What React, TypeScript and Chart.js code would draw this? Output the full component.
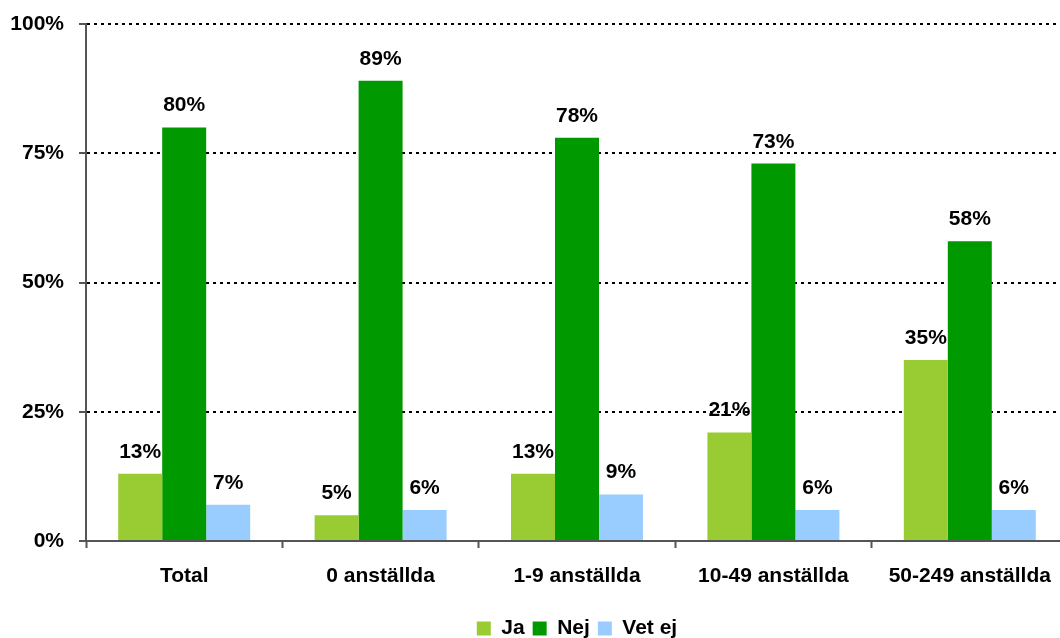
import React, { useEffect, useRef } from "react";
import { Chart, registerables } from "chart.js";

Chart.register(...registerables);

const categories = ["Total", "0 anställda", "1-9 anställda", "10-49 anställda", "50-249 anställda"];
const seriesNames = ["Ja", "Nej", "Vet ej"];
const jaValues = [13, 5, 13, 21, 35];
const nejValues = [80, 89, 78, 73, 58];
const vetEjValues = [7, 6, 9, 6, 6];
const seriesColors = ["#99CC33", "#009900", "#99CCFF"];
const yTicks = [0, 25, 50, 75, 100];

const FONT = "'Liberation Sans', Arial, Helvetica, sans-serif";
const FS = 21;

const valueLabels = {
  id: "valueLabels",
  afterDatasetsDraw(chart: any) {
    const ctx = chart.ctx;
    ctx.save();
    ctx.font = `bold ${FS}px ${FONT}`;
    ctx.fillStyle = "#000";
    ctx.textAlign = "center";
    ctx.textBaseline = "alphabetic";
    chart.data.datasets.forEach((ds: any, i: number) => {
      const meta = chart.getDatasetMeta(i);
      meta.data.forEach((bar: any, j: number) => {
        ctx.fillText(ds.data[j] + "%", bar.x, bar.y - 16);
      });
    });
    ctx.restore();
  },
};

export default function App() {
  const ref = useRef<HTMLCanvasElement>(null);
  useEffect(() => {
    if (!ref.current) return;
    const chart = new Chart(ref.current, {
      type: "bar",
      data: {
        labels: categories,
        datasets: [jaValues, nejValues, vetEjValues].map((d, i) => ({
          label: seriesNames[i],
          data: d,
          backgroundColor: seriesColors[i],
          borderWidth: 0,
          categoryPercentage: 0.672,
          barPercentage: 1,
        })),
      },
      options: {
        responsive: false,
        animation: false,
        layout: { padding: { top: 24, left: 0, right: 0, bottom: -11 } },
        plugins: {
          legend: {
            position: "bottom",
            fullSize: false,
            labels: {
              boxWidth: 14,
              boxHeight: 14,
              padding: 8,
              color: "#000",
              font: { family: FONT, size: FS, weight: "bold" },
            },
          },
          tooltip: { enabled: false },
        },
        scales: {
          x: {
            grid: {
              offset: true,
              drawOnChartArea: false,
              drawTicks: true,
              tickLength: 7,
              tickColor: "#555",
              tickWidth: 2,
            },
            border: { display: true, color: "#555", width: 2 },
            ticks: {
              color: "#000",
              padding: 16,
              font: { family: FONT, size: FS, weight: "bold" },
            },
            afterFit: (s: any) => {
              s.height = 69;
              s.paddingLeft = 0;
              s.paddingRight = 0;
            },
          },
          y: {
            min: 0,
            max: 100,
            afterBuildTicks: (s: any) => {
              s.ticks = yTicks.map((v) => ({ value: v }));
            },
            grid: {
              color: (c: any) => (c.tick && c.tick.value === 0 ? "rgba(0,0,0,0)" : "#000"),
              lineWidth: 2,
              drawTicks: true,
              tickLength: 7,
              tickColor: "#555",
              tickWidth: 2,
              tickBorderDash: [],
            },
            border: { display: true, color: "#555", width: 2, dash: [3, 4] },
            ticks: {
              color: "#000",
              padding: 15,
              font: { family: FONT, size: FS, weight: "bold" },
              callback: (v: any) => v + "%",
            },
            afterFit: (s: any) => {
              s.width = 86;
              s.paddingTop = 0;
              s.paddingBottom = 0;
            },
          },
        },
      },
      plugins: [valueLabels],
    });
    return () => chart.destroy();
  }, []);
  return (
    <div style={{ position: "absolute", left: 0, top: 0, width: 1060, height: 638, overflow: "hidden", background: "#fff" }}>
      <canvas ref={ref} width={1068} height={638} style={{ width: 1068, height: 638, display: "block" }} />
    </div>
  );
}
